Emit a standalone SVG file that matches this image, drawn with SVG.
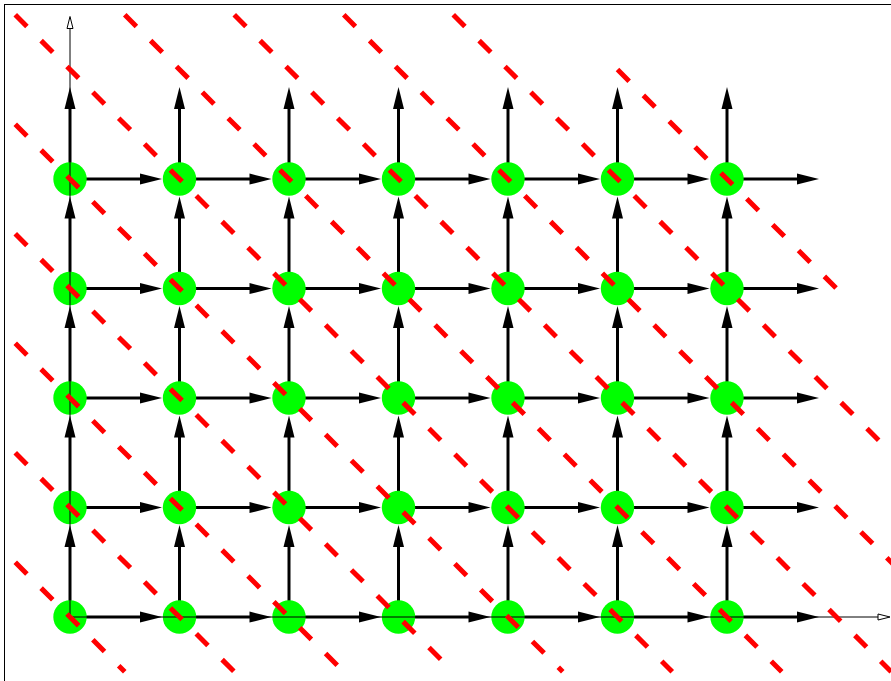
<svg xmlns="http://www.w3.org/2000/svg" width="891" height="681" viewBox="0 0 891 681">
<style>
.a{stroke:#000;stroke-width:3;fill:none;marker-end:url(#ah)}
.n{fill:#00ff00;stroke:none}
.ax{stroke:#000;stroke-width:1;fill:none;marker-end:url(#oa)}
.r{stroke:#ff0000;stroke-width:5;fill:none;stroke-dasharray:16.5 20.07;stroke-linecap:butt}
</style>
<defs>
<marker id="ah" markerUnits="userSpaceOnUse" markerWidth="22" markerHeight="11" refX="1" refY="5.5" orient="auto" overflow="visible"><path d="M0,0L22,5.5L0,11z" fill="#000"/></marker>
<marker id="oa" markerUnits="userSpaceOnUse" markerWidth="13" markerHeight="7" refX="0" refY="3" orient="auto" overflow="visible"><path d="M0,0L12,3L0,6z" fill="#fff" stroke="#000" stroke-width="1"/></marker>
</defs>
<rect x="4.5" y="4.5" width="1000" height="1000" fill="#fff" stroke="#000" stroke-width="1"/>
<g id="connectors">
<path class="a" d="M70,617h71"/><path class="a" d="M70,617v-71"/>
<path class="a" d="M179.5,617h71"/><path class="a" d="M179.5,617v-71"/>
<path class="a" d="M289,617h71"/><path class="a" d="M289,617v-71"/>
<path class="a" d="M398.5,617h71"/><path class="a" d="M398.5,617v-71"/>
<path class="a" d="M508,617h71"/><path class="a" d="M508,617v-71"/>
<path class="a" d="M617.5,617h71"/><path class="a" d="M617.5,617v-71"/>
<path class="a" d="M727,617h71"/><path class="a" d="M727,617v-71"/>
<path class="a" d="M70,507.5h71"/><path class="a" d="M70,507.5v-71"/>
<path class="a" d="M179.5,507.5h71"/><path class="a" d="M179.5,507.5v-71"/>
<path class="a" d="M289,507.5h71"/><path class="a" d="M289,507.5v-71"/>
<path class="a" d="M398.5,507.5h71"/><path class="a" d="M398.5,507.5v-71"/>
<path class="a" d="M508,507.5h71"/><path class="a" d="M508,507.5v-71"/>
<path class="a" d="M617.5,507.5h71"/><path class="a" d="M617.5,507.5v-71"/>
<path class="a" d="M727,507.5h71"/><path class="a" d="M727,507.5v-71"/>
<path class="a" d="M70,398h71"/><path class="a" d="M70,398v-71"/>
<path class="a" d="M179.5,398h71"/><path class="a" d="M179.5,398v-71"/>
<path class="a" d="M289,398h71"/><path class="a" d="M289,398v-71"/>
<path class="a" d="M398.5,398h71"/><path class="a" d="M398.5,398v-71"/>
<path class="a" d="M508,398h71"/><path class="a" d="M508,398v-71"/>
<path class="a" d="M617.5,398h71"/><path class="a" d="M617.5,398v-71"/>
<path class="a" d="M727,398h71"/><path class="a" d="M727,398v-71"/>
<path class="a" d="M70,288.5h71"/><path class="a" d="M70,288.5v-71"/>
<path class="a" d="M179.5,288.5h71"/><path class="a" d="M179.5,288.5v-71"/>
<path class="a" d="M289,288.5h71"/><path class="a" d="M289,288.5v-71"/>
<path class="a" d="M398.5,288.5h71"/><path class="a" d="M398.5,288.5v-71"/>
<path class="a" d="M508,288.5h71"/><path class="a" d="M508,288.5v-71"/>
<path class="a" d="M617.5,288.5h71"/><path class="a" d="M617.5,288.5v-71"/>
<path class="a" d="M727,288.5h71"/><path class="a" d="M727,288.5v-71"/>
<path class="a" d="M70,179h71"/><path class="a" d="M70,179v-71"/>
<path class="a" d="M179.5,179h71"/><path class="a" d="M179.5,179v-71"/>
<path class="a" d="M289,179h71"/><path class="a" d="M289,179v-71"/>
<path class="a" d="M398.5,179h71"/><path class="a" d="M398.5,179v-71"/>
<path class="a" d="M508,179h71"/><path class="a" d="M508,179v-71"/>
<path class="a" d="M617.5,179h71"/><path class="a" d="M617.5,179v-71"/>
<path class="a" d="M727,179h71"/><path class="a" d="M727,179v-71"/>
</g>
<g id="nodes">
<g id="n0-0"><circle class="n" cx="70" cy="617" r="16.7"/></g>
<g id="n1-0"><circle class="n" cx="179.5" cy="617" r="16.7"/></g>
<g id="n2-0"><circle class="n" cx="289" cy="617" r="16.7"/></g>
<g id="n3-0"><circle class="n" cx="398.5" cy="617" r="16.7"/></g>
<g id="n4-0"><circle class="n" cx="508" cy="617" r="16.7"/></g>
<g id="n5-0"><circle class="n" cx="617.5" cy="617" r="16.7"/></g>
<g id="n6-0"><circle class="n" cx="727" cy="617" r="16.7"/></g>
<g id="n0-1"><circle class="n" cx="70" cy="507.5" r="16.7"/></g>
<g id="n1-1"><circle class="n" cx="179.5" cy="507.5" r="16.7"/></g>
<g id="n2-1"><circle class="n" cx="289" cy="507.5" r="16.7"/></g>
<g id="n3-1"><circle class="n" cx="398.5" cy="507.5" r="16.7"/></g>
<g id="n4-1"><circle class="n" cx="508" cy="507.5" r="16.7"/></g>
<g id="n5-1"><circle class="n" cx="617.5" cy="507.5" r="16.7"/></g>
<g id="n6-1"><circle class="n" cx="727" cy="507.5" r="16.7"/></g>
<g id="n0-2"><circle class="n" cx="70" cy="398" r="16.7"/></g>
<g id="n1-2"><circle class="n" cx="179.5" cy="398" r="16.7"/></g>
<g id="n2-2"><circle class="n" cx="289" cy="398" r="16.7"/></g>
<g id="n3-2"><circle class="n" cx="398.5" cy="398" r="16.7"/></g>
<g id="n4-2"><circle class="n" cx="508" cy="398" r="16.7"/></g>
<g id="n5-2"><circle class="n" cx="617.5" cy="398" r="16.7"/></g>
<g id="n6-2"><circle class="n" cx="727" cy="398" r="16.7"/></g>
<g id="n0-3"><circle class="n" cx="70" cy="288.5" r="16.7"/></g>
<g id="n1-3"><circle class="n" cx="179.5" cy="288.5" r="16.7"/></g>
<g id="n2-3"><circle class="n" cx="289" cy="288.5" r="16.7"/></g>
<g id="n3-3"><circle class="n" cx="398.5" cy="288.5" r="16.7"/></g>
<g id="n4-3"><circle class="n" cx="508" cy="288.5" r="16.7"/></g>
<g id="n5-3"><circle class="n" cx="617.5" cy="288.5" r="16.7"/></g>
<g id="n6-3"><circle class="n" cx="727" cy="288.5" r="16.7"/></g>
<g id="n0-4"><circle class="n" cx="70" cy="179" r="16.7"/></g>
<g id="n1-4"><circle class="n" cx="179.5" cy="179" r="16.7"/></g>
<g id="n2-4"><circle class="n" cx="289" cy="179" r="16.7"/></g>
<g id="n3-4"><circle class="n" cx="398.5" cy="179" r="16.7"/></g>
<g id="n4-4"><circle class="n" cx="508" cy="179" r="16.7"/></g>
<g id="n5-4"><circle class="n" cx="617.5" cy="179" r="16.7"/></g>
<g id="n6-4"><circle class="n" cx="727" cy="179" r="16.7"/></g>
</g>
<g id="axes">
<path class="ax" d="M70,617V28.5"/>
<path class="ax" d="M70,617H878"/>
</g>
<g id="wavefronts">
<path class="r" d="M15.25,562.25L124.75,671.75"/>
<path class="r" d="M15.25,452.75L234.25,671.75"/>
<path class="r" d="M15.25,343.25L343.75,671.75"/>
<path class="r" d="M15.25,233.75L453.25,671.75"/>
<path class="r" d="M15.25,124.25L562.75,671.75"/>
<path class="r" d="M15.25,14.75L672.25,671.75"/>
<path class="r" d="M124.75,14.75L781.75,671.75"/>
<path class="r" d="M234.25,14.75L891.25,671.75"/>
<path class="r" d="M343.75,14.75L1000.75,671.75"/>
<path class="r" d="M453.25,14.75L1110.25,671.75"/>
<path class="r" d="M617.5,69.5L836.5,288.5"/>
</g>
</svg>
